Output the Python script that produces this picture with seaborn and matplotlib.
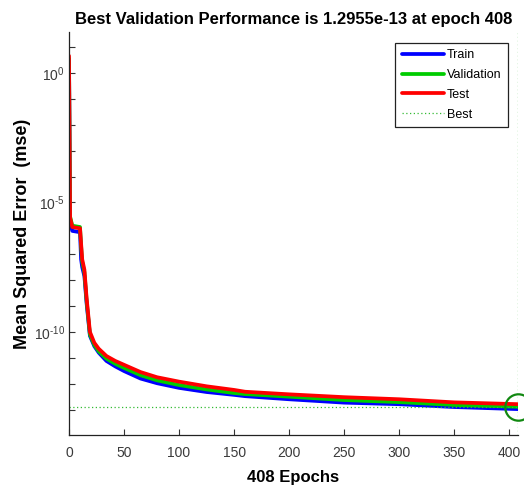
import numpy as np
import pandas as pd
import matplotlib
matplotlib.use("Agg")
import matplotlib.pyplot as plt
import matplotlib.ticker as mticker
from matplotlib.lines import Line2D
import seaborn as sns

# ---- data (as log10 of MSE) ----
epochs = [0, 1, 3, 10, 11, 12, 14, 16, 19, 23, 27, 34, 42, 50, 65, 80,
          100, 125, 150, 160, 200, 250, 300, 350, 408]
test_log10 = [0.66, -5.6, -5.95, -6.0, -6.6, -7.2, -7.6, -8.7, -10.0, -10.42,
              -10.65, -10.93, -11.12, -11.27, -11.55, -11.75, -11.92, -12.1,
              -12.24, -12.31, -12.41, -12.52, -12.6, -12.72, -12.79]
valid_log10 = [0.55, -5.55, -5.9, -5.95, -6.7, -7.3, -7.7, -8.8, -10.1, -10.5,
               -10.75, -11.03, -11.23, -11.39, -11.67, -11.87, -12.05, -12.22,
               -12.36, -12.4, -12.5, -12.63, -12.71, -12.82, -12.888]
train_log10 = [0.45, -5.8, -6.1, -6.15, -7.2, -7.5, -7.85, -8.9, -10.15, -10.55,
               -10.8, -11.12, -11.33, -11.51, -11.8, -11.98, -12.16, -12.32,
               -12.43, -12.48, -12.6, -12.73, -12.79, -12.9, -12.98]
series_names = ["Train", "Validation", "Test"]
series_colors = ["#0000ff", "#00cc00", "#ff0000"]
best_epoch = 408
best_value = 1.2955e-13
x_ticks = [0, 50, 100, 150, 200, 250, 300, 350, 400]
y_major = [1e-10, 1e-5, 1e0]

title_text = "Best Validation Performance is 1.2955e-13 at epoch 408"
xlabel_text = "408 Epochs"
ylabel_text = "Mean Squared Error  (mse)"

# ---- build long-form table ----
frames = []
for name, vals in zip(series_names, [train_log10, valid_log10, test_log10]):
    frames.append(pd.DataFrame({"Epoch": epochs,
                                "MSE": 10.0 ** np.array(vals),
                                "Set": name}))
df = pd.concat(frames, ignore_index=True)

sns.set_theme(style="white")
plt.rcParams["font.family"] = ["Liberation Sans", "DejaVu Sans"]
plt.rcParams["mathtext.fontset"] = "custom"
plt.rcParams["mathtext.rm"] = "Liberation Sans"
plt.rcParams["mathtext.it"] = "Liberation Sans:italic"
plt.rcParams["mathtext.bf"] = "Liberation Sans:bold"
plt.rcParams["axes.unicode_minus"] = False
plt.rcParams["text.color"] = "black"
plt.rcParams["axes.labelcolor"] = "black"

fig = plt.figure(figsize=(5.24, 4.93), dpi=100)
ax = fig.add_axes([69 / 524, 1 - 435 / 493, (518 - 69) / 524, (435 - 32) / 493])

sns.lineplot(data=df, x="Epoch", y="MSE", hue="Set", hue_order=series_names,
             palette=series_colors, linewidth=2.7, legend=False, ax=ax,
             estimator=None, sort=False)

ax.set_yscale("log")
ax.set_xlim(0, best_epoch)
ax.set_ylim(10 ** -13.98, 10 ** 1.58)

best_color = "#33bb33"
ax.axhline(best_value, color=best_color, linestyle=(0, (1, 2)), linewidth=0.9)
ax.axvline(best_epoch, color=best_color, linestyle=(0, (1, 2)), linewidth=0.9)
ax.plot([best_epoch], [best_value], marker="o", markersize=19,
        markerfacecolor="none", markeredgecolor="#118811",
        markeredgewidth=1.6, clip_on=False, zorder=5)


def pow10_label(v, pos):
    e = int(round(np.log10(v)))
    s = str(e).replace("-", "\u2010")
    return r"$10^{%s}$" % s


# ticks
ax.xaxis.set_major_locator(mticker.FixedLocator(x_ticks))
ax.yaxis.set_major_locator(mticker.FixedLocator(y_major))
ax.yaxis.set_major_formatter(mticker.FuncFormatter(pow10_label))
ax.yaxis.set_minor_locator(mticker.FixedLocator([10.0 ** k for k in range(-13, 2)]))
ax.yaxis.set_minor_formatter(mticker.NullFormatter())
ax.tick_params(axis="both", which="both", direction="in", colors="#333333",
               labelcolor="#3a3a3a", labelsize=10)
ax.tick_params(axis="x", which="major", length=4, width=0.8, pad=8)
ax.tick_params(axis="y", which="major", length=4, width=0.8, pad=3)
ax.tick_params(axis="y", which="minor", length=4, width=0.8)
ax.tick_params(left=True, bottom=True, which="both")

for s in ["top", "right"]:
    ax.spines[s].set_visible(False)
for s in ["left", "bottom"]:
    ax.spines[s].set_color("#222222")
    ax.spines[s].set_linewidth(0.9)

ax.set_title(title_text, fontsize=12, fontweight="bold", pad=6, color="black")
ax.set_xlabel(xlabel_text, fontsize=12, fontweight="bold", labelpad=7)
ax.set_ylabel(ylabel_text, fontsize=13, fontweight="bold")
ax.yaxis.set_label_coords(-0.085, 0.5)

# legend
handles = [Line2D([], [], color=c, linewidth=2.7) for c in series_colors]
handles.append(Line2D([], [], color=best_color, linestyle=(0, (1, 2)), linewidth=0.9))
leg = ax.legend(handles, series_names + ["Best"], loc="upper right",
                bbox_to_anchor=(508 / 524, 1 - 43 / 493),
                bbox_transform=fig.transFigure, fontsize=9,
                frameon=True, fancybox=False, handlelength=3.4,
                handletextpad=0.25, labelspacing=0.62, borderpad=0.5,
                borderaxespad=0)
leg.get_frame().set_edgecolor("#222222")
leg.get_frame().set_linewidth(0.9)
leg.get_frame().set_alpha(1)

fig.savefig("out.png", dpi=100)
